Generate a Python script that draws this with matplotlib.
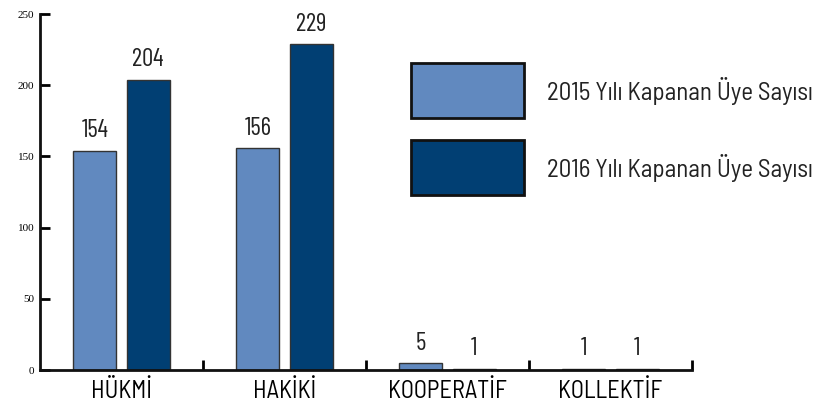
import numpy as np
import matplotlib.pyplot as plt
from matplotlib.patches import Rectangle

categories = ['HÜKMİ', 'HAKİKİ', 'KOOPERATİF', 'KOLLEKTİF']
values_2015 = [154, 156, 5, 1]
values_2016 = [204, 229, 1, 1]
series_labels = ['2015 Yılı Kapanan Üye Sayısı', '2016 Yılı Kapanan Üye Sayısı']
yticks = [0, 50, 100, 150, 200, 250]

c2015 = '#6189bf'
c2016 = '#013f73'
narrow = ['Barlow Semi Condensed', 'DejaVu Sans']
cond = ['Barlow Condensed', 'DejaVu Sans']

def main():
    fig = plt.figure(figsize=(8.17, 4.07), dpi=100)
    ax = fig.add_axes([40 / 817, 37 / 407, 652 / 817, 356 / 407])

    x = np.arange(len(categories))
    w = 0.264
    off = 0.163
    b1 = ax.bar(x - off, values_2015, w, color=c2015, edgecolor='#333333', linewidth=1)
    b2 = ax.bar(x + off, values_2016, w, color=c2016, edgecolor='#333333', linewidth=1)

    for bars, vals in ((b1, values_2015), (b2, values_2016)):
        for r, v in zip(bars, vals):
            ax.annotate(str(v), (r.get_x() + r.get_width() / 2, v),
                        xytext=(0, 6), textcoords='offset points',
                        ha='center', va='bottom', fontsize=18, family=cond,
                        color='#222222')

    ax.set_xlim(-0.5, len(categories) - 0.5)
    ax.set_ylim(0, 250)
    ax.set_yticks(yticks)
    ax.set_yticklabels([str(t) for t in yticks], family='Liberation Serif', fontsize=8)
    ax.set_xticks(x)
    ax.set_xticklabels(categories, family=narrow, fontsize=17.5)
    ax.tick_params(axis='x', length=0, pad=7)
    ax.set_xticks(np.arange(len(categories)) + 0.5, minor=True)
    ax.tick_params(axis='x', which='minor', direction='in', length=7, width=2)
    ax.tick_params(axis='y', direction='in', length=7, width=2, pad=4)

    for s in ('top', 'right'):
        ax.spines[s].set_visible(False)
    for s in ('left', 'bottom'):
        ax.spines[s].set_linewidth(2)
        ax.spines[s].set_color('#111111')

    # legend drawn by hand
    for i, (lab, col) in enumerate(zip(series_labels, (c2015, c2016))):
        y0 = 1 - (118 + i * 77) / 407
        fig.patches.append(Rectangle((411 / 817, y0), 113 / 817, 55 / 407,
                                     transform=fig.transFigure, facecolor=col,
                                     edgecolor='#111111', linewidth=2))
        fig.text(547 / 817, y0 + 27 / 407, lab, family=narrow, fontsize=18,
                 va='center', ha='left', color='#222222')

    fig.savefig('out.png', dpi=100)

if __name__ == "__main__":
    main()
